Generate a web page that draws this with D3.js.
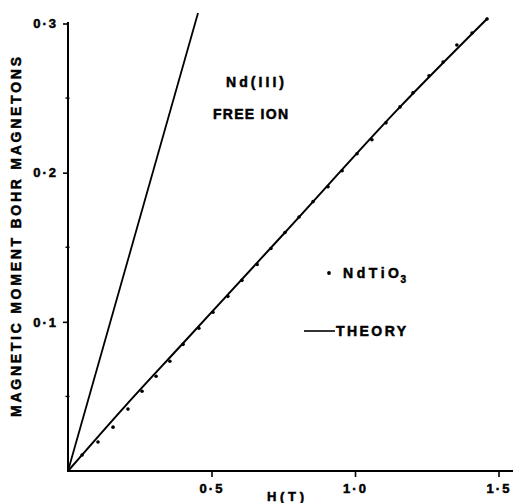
<!DOCTYPE html>
<html><head><meta charset="utf-8">
<script src="https://cdn.jsdelivr.net/npm/d3@7"></script>
<style>body{margin:0;background:#fff}svg{display:block}</style>
</head><body>
<script>
// Measured NdTiO3 magnetisation (Bohr magnetons) vs field H (T)
const fieldH  = [0.049,0.1045,0.157,0.209,0.258,0.307,0.355,0.401,0.456,0.505,0.557,0.606,0.659,0.707,0.756,0.805,0.854,0.906,0.955,1.007,1.059,1.108,1.157,1.202,1.258,1.307,1.355,1.408,1.460];
const momentM = [0.0107,0.0194,0.0294,0.0415,0.0535,0.0635,0.0736,0.0849,0.0957,0.1064,0.1171,0.1278,0.1385,0.1492,0.1599,0.1703,0.1806,0.1906,0.2013,0.2127,0.2221,0.2334,0.2441,0.2535,0.2649,0.2742,0.2856,0.2936,0.3030];
// Theory curve
const theoryH = [0,0.2,0.4,0.756,1.157,1.463];
const theoryM = [0,0.0437,0.0855,0.1599,0.2441,0.3037];
// Nd(III) free ion
const freeIonH = [0,0.453];
const freeIonM = [0,0.307];
// ticks
const xTicks = [0.5,1.0,1.5];
const xTickLabels = ["0·5","1·0","1·5"];
const yTicks = [0.1,0.2,0.3];
const yTickLabels = ["0·1","0·2","0·3"];
const yMinorTicks = [0.05,0.15,0.25];

const W = 513, H = 503;
const FONT = "'Liberation Sans', Arial, sans-serif";
const svg = d3.select("body").append("svg").attr("width", W).attr("height", H)
  .style("font-family", FONT);

const x = d3.scaleLinear().domain([0,1.5]).range([68,498.5]);
const y = d3.scaleLinear().domain([0,0.3]).range([471,23.5]);

// axis lines
svg.append("line").attr("x1",x(0)).attr("x2",x(0)).attr("y1",y(0.3)-1.5).attr("y2",y(0)+1)
  .attr("stroke","#000").attr("stroke-width",2);
svg.append("line").attr("x1",x(0)-1).attr("x2",W).attr("y1",y(0)).attr("y2",y(0))
  .attr("stroke","#000").attr("stroke-width",2);

function heavy(sel){ return sel.attr("font-family",FONT).attr("font-weight","bold")
  .attr("stroke","#000").attr("stroke-width",0.5).attr("fill","#000"); }

// x axis ticks
const gx = svg.append("g").attr("transform",`translate(0,${y(0)})`)
  .call(d3.axisBottom(x).tickValues(xTicks).tickFormat((d,i)=>xTickLabels[i]).tickSize(6).tickPadding(7));
gx.select(".domain").remove();
gx.selectAll(".tick line").attr("stroke-width",1.6);
heavy(gx.selectAll(".tick text")).attr("font-size",13).attr("letter-spacing",2).attr("dy","0.71em");

// y axis ticks
const gy = svg.append("g").attr("transform",`translate(${x(0)},0)`)
  .call(d3.axisLeft(y).tickValues(yTicks).tickFormat((d,i)=>yTickLabels[i]).tickSize(5).tickPadding(5));
gy.select(".domain").remove();
gy.selectAll(".tick line").attr("stroke-width",1.6);
heavy(gy.selectAll(".tick text")).attr("font-size",13).attr("letter-spacing",2);

// y minor ticks
svg.selectAll("line.minor").data(yMinorTicks).join("line").attr("class","minor")
  .attr("x1",x(0)-2.5).attr("x2",x(0)+1.5).attr("y1",d=>y(d)).attr("y2",d=>y(d))
  .attr("stroke","#000").attr("stroke-width",1.4);

// free ion line
const line = d3.line().x(d=>x(d[0])).y(d=>y(d[1]));
svg.append("path").datum(freeIonH.map((h,i)=>[h,freeIonM[i]]))
  .attr("d",line).attr("fill","none").attr("stroke","#000").attr("stroke-width",1.8);

// theory curve
svg.append("path").datum(theoryH.map((h,i)=>[h,theoryM[i]]))
  .attr("d",line.curve(d3.curveMonotoneX)).attr("fill","none").attr("stroke","#000").attr("stroke-width",2);

// data points
svg.selectAll("circle.pt").data(fieldH.map((h,i)=>[h,momentM[i]])).join("circle")
  .attr("class","pt").attr("cx",d=>x(d[0])).attr("cy",d=>y(d[1])).attr("r",1.8).attr("fill","#000");

// labels
function lab(txt, xx, yy, len, size){
  return heavy(svg.append("text").attr("x",xx).attr("y",yy).text(txt))
    .attr("font-size",size||14)
    .attr("textLength",len).attr("lengthAdjust","spacing");
}
lab("Nd(III)",226,87,58,14);
lab("FREE ION",213,119,75,14);
svg.append("circle").attr("cx",329).attr("cy",273).attr("r",1.9).attr("fill","#000");
const t = heavy(svg.append("text").attr("x",343).attr("y",278)).attr("font-size",14);
t.append("tspan").text("NdTiO").attr("textLength",56).attr("lengthAdjust","spacing");
t.append("tspan").text("3").attr("dx",-2).attr("dy",5).attr("font-size",10);
svg.append("line").attr("x1",304).attr("x2",335).attr("y1",331).attr("y2",331)
  .attr("stroke","#000").attr("stroke-width",1.6);
lab("THEORY",336,336,70,14);
lab("H(T)",267,501,37,13);

// y title
heavy(svg.append("text").attr("transform","translate(21,237) rotate(-90)"))
  .attr("text-anchor","middle").attr("font-size",14)
  .attr("textLength",360).attr("lengthAdjust","spacing")
  .text("MAGNETIC MOMENT BOHR MAGNETONS");
</script>
</body></html>
